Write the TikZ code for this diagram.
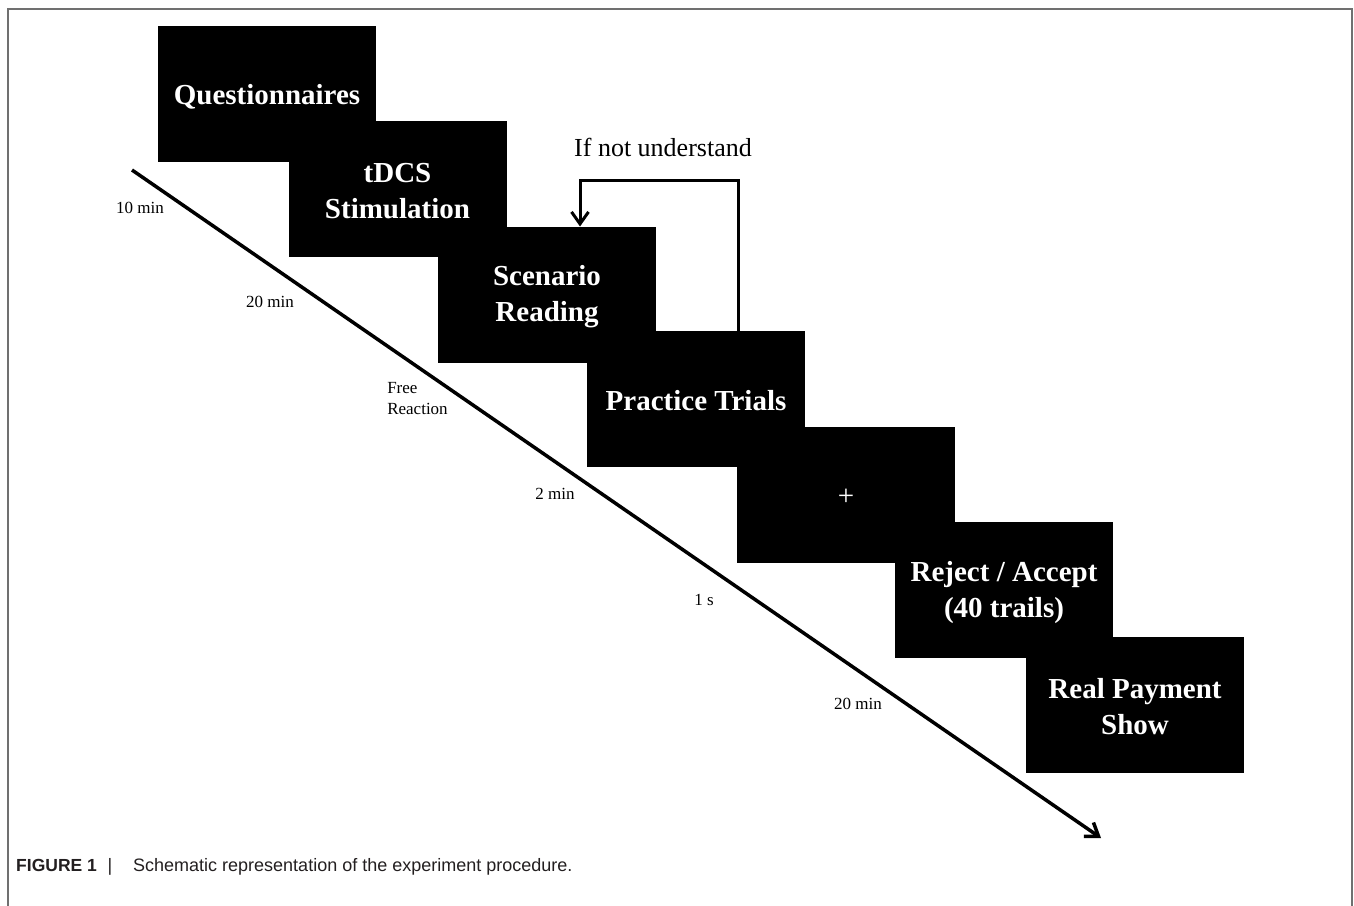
\documentclass[tikz,border=0pt]{standalone}
\usepackage{fontspec}
\setmainfont{Liberation Serif}
\newfontfamily\capfont{Liberation Sans}
\usetikzlibrary{arrows.meta}
\definecolor{framegray}{HTML}{707070}
\definecolor{captext}{HTML}{231F20}
\begin{document}
\begin{tikzpicture}[x=1pt,y=-1pt,
  stepbox/.style={fill=black,draw=none,inner sep=0pt,outer sep=0pt,
    minimum width=218pt,minimum height=136pt},
  boxtext/.style={inner sep=0pt,text=white,align=center,
    font=\bfseries\fontsize{29}{36}\selectfont},
  timelabel/.style={inner sep=0pt,font=\fontsize{17}{21}\selectfont},
  captxt/.style={inner sep=0pt,text=captext,font=\capfont\fontsize{18}{21}\selectfont},
  tlarrow/.style={line width=3.5pt,-{Straight Barb[length=12pt,width=17pt]}},
  fbarrow/.style={line width=3pt,-{Straight Barb[length=12pt,width=17pt]}}]
\useasboundingbox (0,0) rectangle (1354,905);
\begin{scope}
\clip (0,0) rectangle (1354,905);
\draw[framegray,line width=2pt] (8,8.5) rectangle (1352,930);
\end{scope}
% boxes
\node[stepbox] (q) at (267,94) {};
\node[stepbox] (t) at (397.5,189) {};
\node[stepbox] (s) at (547,294.5) {};
\node[stepbox] (p) at (696,399) {};
\node[stepbox] (f) at (846,495) {};
\node[stepbox] (r) at (1004,590) {};
\node[stepbox] (m) at (1135,705) {};
\node[boxtext] (qt) at ([yshift=-3pt]q.center) {Questionnaires};
\node[boxtext] (tt) at ([yshift=-2pt]t.center) {tDCS\\Stimulation};
\node[boxtext] (st) at ([yshift=-2pt]s.center) {Scenario\\Reading};
\node[boxtext] (pt) at ([yshift=-2pt]p.center) {Practice Trials};
\node[boxtext,font=\fontsize{29}{36}\selectfont] (ft) at ([yshift=-2pt]f.center) {+};
\node[boxtext] (rt) at ([yshift=-3pt]r.center) {Reject / Accept\\(40 trails)};
\node[boxtext] (mt) at ([yshift=-2pt]m.center) {Real Payment\\Show};
% timeline
\coordinate (t0) at (132,170);
\coordinate (t1) at (1101,838);
\draw[tlarrow] (t0) -- (t1);
% feedback loop
\coordinate (lt) at (738,180);
\coordinate (lb) at (580,180);
\draw[fbarrow] (p.north -| lt) -- (lt) -- (lb) -- (s.north -| lb);
\node[inner sep=0pt,font=\fontsize{26}{30}\selectfont] (lbl) at (663,147) {If not understand};
% time labels
\node[timelabel] (l1) at (140,208) {10 min};
\node[timelabel] (l2) at (270,302) {20 min};
\node[timelabel,align=left] (l3) at (417.5,399) {Free\\Reaction};
\node[timelabel] (l4) at (555,494) {2 min};
\node[timelabel] (l5) at (704,600) {1 s};
\node[timelabel] (l6) at (858,704) {20 min};
% caption
\node[captxt,anchor=base west,font=\capfont\bfseries\fontsize{17.5}{21}\selectfont] (c1) at (16,871) {FIGURE 1};
\node[captxt,anchor=base] (c2) at (110,871) {|};
\node[captxt,anchor=base west] (c3) at (133,871) {Schematic representation of the experiment procedure.};
\end{tikzpicture}
\end{document}
